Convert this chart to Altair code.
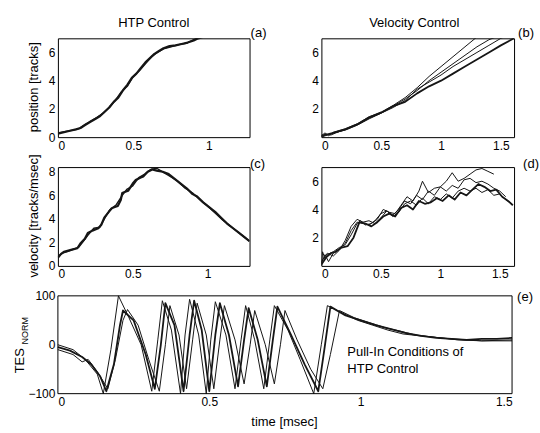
import altair as alt
import pandas as pd

FONT = "Liberation Sans"
INK = "#161616"

# ---------------- (a) HTP control: position [tracks] vs time [msec]
a1_t = [0.00, 0.04, 0.08, 0.12, 0.15, 0.18, 0.21, 0.25, 0.28, 0.31, 0.34, 0.37, 0.40, 0.43, 0.46, 0.49, 0.52, 0.55, 0.58, 0.61, 0.64, 0.67, 0.70, 0.74, 0.78, 0.82, 0.86, 0.90, 0.93, 0.96]
a1_v = [0.25, 0.35, 0.45, 0.55, 0.65, 0.85, 1.05, 1.3, 1.5, 1.8, 2.1, 2.5, 2.8, 3.3, 3.7, 4.2, 4.5, 4.9, 5.3, 5.6, 5.9, 6.1, 6.3, 6.45, 6.5, 6.6, 6.7, 6.85, 7.0, 7.1]
a2_t = [0.00, 0.05, 0.10, 0.14, 0.18, 0.22, 0.26, 0.30, 0.34, 0.38, 0.42, 0.46, 0.50, 0.54, 0.58, 0.62, 0.66, 0.70, 0.75, 0.80, 0.85, 0.90, 0.94]
a2_v = [0.3, 0.4, 0.5, 0.6, 0.9, 1.15, 1.4, 1.7, 2.1, 2.6, 3.2, 3.6, 4.3, 4.7, 5.2, 5.7, 6.0, 6.25, 6.4, 6.55, 6.65, 6.9, 7.1]

# ---------------- (b) velocity control: position [tracks]
b1_t = [0.00, 0.03, 0.06, 0.10, 0.20, 0.30, 0.40, 0.50, 0.60, 0.70, 0.80, 0.90, 1.00, 1.10, 1.20, 1.30]
b1_v = [0.1, 0.3, 0.1, 0.35, 0.6, 0.95, 1.45, 1.75, 2.25, 2.8, 3.5, 4.3, 5.0, 5.7, 6.4, 7.1]
b2_t = [0.00, 0.04, 0.08, 0.12, 0.20, 0.30, 0.40, 0.50, 0.60, 0.70, 0.80, 0.90, 1.00, 1.10, 1.20, 1.30, 1.40, 1.46]
b2_v = [0.05, 0.2, 0.15, 0.3, 0.55, 0.9, 1.35, 1.7, 2.2, 2.7, 3.3, 4.0, 4.6, 5.2, 5.8, 6.4, 6.9, 7.1]
b3_t = [0.00, 0.05, 0.10, 0.20, 0.30, 0.40, 0.50, 0.60, 0.70, 0.80, 0.90, 1.00, 1.10, 1.20, 1.30, 1.40, 1.50, 1.53]
b3_v = [0.0, 0.15, 0.3, 0.5, 0.85, 1.3, 1.7, 2.1, 2.6, 3.4, 3.9, 4.4, 5.0, 5.5, 6.0, 6.5, 7.0, 7.1]
b4_t = [0.00, 0.05, 0.10, 0.20, 0.30, 0.40, 0.50, 0.60, 0.70, 0.80, 0.90, 1.00, 1.10, 1.20, 1.30, 1.40, 1.50, 1.61]
b4_v = [0.1, 0.2, 0.3, 0.55, 0.9, 1.4, 1.75, 2.2, 2.5, 3.1, 3.6, 4.0, 4.5, 5.0, 5.5, 6.0, 6.5, 7.0]

# ---------------- (c) HTP control: velocity [tracks/msec]
c1_t = [0.00, 0.02, 0.04, 0.07, 0.10, 0.13, 0.15, 0.18, 0.20, 0.23, 0.27, 0.29, 0.31, 0.34, 0.36, 0.38, 0.40, 0.42, 0.43, 0.45, 0.47, 0.50, 0.52, 0.55, 0.57, 0.60, 0.63, 0.66, 0.70, 0.74, 0.78, 0.82, 0.86, 0.90, 0.93, 0.97, 1.01, 1.05, 1.09, 1.13, 1.17, 1.21, 1.25, 1.28]
c1_v = [0.7, 1.0, 1.2, 1.3, 1.4, 1.5, 1.9, 2.3, 2.8, 3.0, 3.2, 3.5, 4.1, 4.6, 4.9, 5.0, 5.1, 5.6, 6.2, 6.3, 6.4, 7.0, 7.3, 7.5, 7.6, 8.0, 8.2, 8.1, 8.0, 7.8, 7.4, 7.0, 6.6, 6.1, 5.9, 5.4, 5.0, 4.6, 4.1, 3.6, 3.2, 2.8, 2.4, 2.1]
c2_t = [0.00, 0.03, 0.06, 0.10, 0.14, 0.17, 0.20, 0.24, 0.28, 0.32, 0.35, 0.39, 0.43, 0.46, 0.50, 0.54, 0.58, 0.62, 0.66, 0.70, 0.75, 0.80, 0.85, 0.90, 0.95, 1.00, 1.05, 1.10, 1.15, 1.20, 1.25, 1.28]
c2_v = [0.8, 1.1, 1.2, 1.4, 1.6, 2.1, 2.6, 3.2, 3.3, 4.2, 4.8, 5.2, 6.0, 6.5, 6.8, 7.5, 7.8, 8.2, 8.3, 8.0, 7.6, 7.2, 6.6, 6.2, 5.6, 5.1, 4.5, 3.9, 3.4, 2.9, 2.4, 2.1]

# ---------------- (d) velocity control: velocity [tracks/msec]
d1_t = [0.00, 0.01, 0.03, 0.05, 0.10, 0.15, 0.20, 0.25, 0.30, 0.33, 0.37, 0.42, 0.47, 0.52, 0.57, 0.62, 0.67, 0.72, 0.77, 0.82, 0.85, 0.90, 0.95, 1.00, 1.05, 1.10, 1.15, 1.20, 1.25, 1.30, 1.35, 1.40, 1.45]
d1_v = [0.0, 1.0, 0.5, 0.8, 1.0, 1.3, 1.5, 2.2, 3.0, 3.2, 2.9, 3.0, 3.3, 4.0, 3.8, 3.7, 4.3, 4.9, 4.6, 5.3, 6.0, 5.2, 5.5, 5.6, 6.0, 6.6, 6.0, 6.2, 6.5, 6.8, 6.9, 6.7, 6.5]
d2_t = [0.00, 0.03, 0.06, 0.10, 0.15, 0.20, 0.25, 0.30, 0.35, 0.40, 0.45, 0.50, 0.55, 0.60, 0.65, 0.70, 0.75, 0.80, 0.85, 0.90, 0.95, 1.00, 1.05, 1.10, 1.15, 1.20, 1.25, 1.30, 1.35, 1.40, 1.45, 1.50, 1.55]
d2_v = [0.2, 0.8, 0.3, 0.9, 1.2, 1.6, 2.5, 3.1, 3.0, 2.9, 3.2, 3.7, 3.9, 3.6, 4.0, 4.6, 4.4, 5.0, 4.7, 5.3, 5.0, 5.6, 5.3, 5.7, 5.5, 6.1, 6.2, 5.9, 6.0, 5.8, 5.5, 5.3, 4.9]
d3_t = [0.00, 0.04, 0.08, 0.12, 0.17, 0.22, 0.27, 0.32, 0.37, 0.42, 0.47, 0.52, 0.57, 0.62, 0.67, 0.72, 0.77, 0.82, 0.87, 0.92, 0.97, 1.02, 1.07, 1.12, 1.17, 1.22, 1.27, 1.32, 1.37, 1.42, 1.47, 1.52, 1.57, 1.61]
d3_v = [0.1, 0.6, 0.9, 1.0, 1.3, 1.4, 2.0, 3.1, 3.0, 2.8, 3.1, 3.5, 3.7, 3.5, 4.1, 4.3, 4.0, 4.6, 4.4, 4.5, 4.8, 4.6, 5.0, 4.7, 5.2, 5.0, 5.4, 5.8, 5.6, 5.3, 5.4, 4.9, 4.6, 4.3]
d4_t = [0.00, 0.05, 0.10, 0.15, 0.20, 0.25, 0.30, 0.35, 0.40, 0.45, 0.50, 0.55, 0.60, 0.65, 0.70, 0.75, 0.80, 0.85, 0.90, 0.95, 1.00, 1.05, 1.10, 1.15, 1.20, 1.25, 1.30, 1.35, 1.40, 1.45, 1.50, 1.55, 1.60]
d4_v = [0.3, 0.9, 0.7, 1.1, 1.8, 2.8, 3.3, 3.1, 3.2, 3.0, 3.4, 3.9, 3.5, 3.8, 4.4, 4.6, 4.3, 4.8, 4.4, 4.9, 4.7, 5.1, 4.8, 5.3, 5.5, 5.3, 5.5, 5.2, 5.4, 5.0, 5.1, 4.7, 4.4]

# ---------------- (e) pull-in conditions: TES_NORM vs time [msec]
e1_t = [0.00, 0.04, 0.08, 0.11, 0.14, 0.16, 0.185, 0.205, 0.215, 0.25, 0.29, 0.32, 0.34, 0.355, 0.385, 0.415, 0.435, 0.45, 0.475, 0.50, 0.52, 0.535, 0.565, 0.595, 0.615, 0.63, 0.66, 0.69, 0.71, 0.725, 0.77, 0.815, 0.86, 0.88, 0.90, 0.95, 1.00, 1.05, 1.10, 1.15, 1.20, 1.25, 1.30, 1.35, 1.40, 1.45, 1.50]
e1_v = [-5, -12, -25, -40, -65, -95, -40, 40, 70, 50, -20, -90, 0, 85, 40, -95, 20, 90, 30, -95, 20, 85, 20, -85, 10, 75, 10, -85, 10, 78, 20, -40, -95, -10, 78, 60, 50, 40, 32, 24, 18, 14, 12, 10, 12, 12, 14]
e2_t = [0.00, 0.05, 0.09, 0.13, 0.15, 0.175, 0.20, 0.235, 0.275, 0.31, 0.33, 0.345, 0.375, 0.405, 0.42, 0.435, 0.465, 0.49, 0.505, 0.52, 0.555, 0.585, 0.605, 0.62, 0.65, 0.68, 0.70, 0.715, 0.76, 0.80, 0.845, 0.87, 0.89, 0.94, 0.99, 1.04, 1.09, 1.14, 1.20, 1.30, 1.40, 1.50]
e2_v = [0, -10, -30, -60, -100, -10, 100, 55, 0, -95, 10, 90, 30, -100, 20, 93, 20, -100, 10, 88, 20, -90, 10, 80, 10, -90, 10, 80, 30, -30, -100, 0, 80, 65, 50, 40, 30, 22, 18, 12, 8, 10]
e3_t = [0.00, 0.05, 0.08, 0.10, 0.13, 0.165, 0.19, 0.215, 0.23, 0.265, 0.30, 0.335, 0.355, 0.37, 0.40, 0.425, 0.445, 0.46, 0.49, 0.515, 0.535, 0.55, 0.585, 0.615, 0.635, 0.65, 0.685, 0.715, 0.735, 0.75, 0.79, 0.835, 0.875, 0.90, 0.93, 0.98, 1.03, 1.08, 1.13, 1.18, 1.25, 1.32, 1.40, 1.50]
e3_v = [-10, -20, -35, -30, -55, -90, -30, 50, 72, 40, -30, -95, 0, 80, 20, -90, 10, 85, 20, -90, 10, 80, 10, -80, 0, 70, 0, -80, 0, 70, 10, -50, -90, -20, 70, 55, 45, 35, 28, 20, 15, 10, 8, 8]

TRACES = [
    ("a", "a1", a1_t, a1_v, 2.2), ("a", "a2", a2_t, a2_v, 1.4),
    ("b", "b1", b1_t, b1_v, 1.0), ("b", "b2", b2_t, b2_v, 1.0), ("b", "b3", b3_t, b3_v, 1.0), ("b", "b4", b4_t, b4_v, 1.8),
    ("c", "c1", c1_t, c1_v, 2.2), ("c", "c2", c2_t, c2_v, 1.4),
    ("d", "d1", d1_t, d1_v, 1.0), ("d", "d2", d2_t, d2_v, 1.0), ("d", "d3", d3_t, d3_v, 1.8), ("d", "d4", d4_t, d4_v, 1.0),
    ("e", "e1", e1_t, e1_v, 1.8), ("e", "e2", e2_t, e2_v, 1.0), ("e", "e3", e3_t, e3_v, 1.0),
]

rows = []
for panel, name, ts, vs, w in TRACES:
    for i, (t, v) in enumerate(zip(ts, vs)):
        rows.append({"panel": panel, "trace": name, "i": i, "t": t, "v": v, "w": w})
df = pd.DataFrame(rows)

ONE = pd.DataFrame({"k": [0]})


def txt(s, x, y, size=13, angle=0, align="center", baseline="middle", opacity=1):
    return alt.Chart(pd.DataFrame({"s": [s]})).mark_text(
        font=FONT, fontSize=size, angle=angle, align=align, baseline=baseline,
        color="black", opacity=opacity,
    ).encode(x=alt.value(x), y=alt.value(y), text="s:N")


def panel(p, xdom, xticks, ydom, yticks, w, h, extras, xrange=None, yfmt="~g", clip=True):
    xs = alt.Scale(domain=xdom, nice=False, zero=False)
    if xrange is not None:
        xs = alt.Scale(domain=xdom, nice=False, zero=False, range=xrange)
    lines = alt.Chart(df[df.panel == p]).mark_line(clip=clip, color=INK, strokeJoin="round").encode(
        x=alt.X("t:Q", scale=xs, axis=alt.Axis(values=xticks, format="~g", title=None)),
        y=alt.Y("v:Q", scale=alt.Scale(domain=ydom, nice=False, zero=False),
                axis=alt.Axis(values=yticks, format=yfmt, title=None)),
        detail="trace:N",
        order="i:Q",
        strokeWidth=alt.StrokeWidth("w:Q", scale=None, legend=None),
    )
    return alt.layer(lines, *extras).properties(width=w, height=h)


pa = panel("a", [0, 1.27], [0, 0.5, 1], [0, 7], [0, 2, 4, 6], 192, 99, [
    txt("HTP Control", 96, -15), txt("(a)", 201, -5),
    txt("position [tracks]", -24, 49, angle=270),
])
pb = panel("b", [0, 1.61], [0, 0.5, 1, 1.5], [0, 7], [2, 4, 6], 193, 99, [
    txt("Velocity Control", 93, -15), txt("(b)", 205, -5),
])
pc = panel("c", [0, 1.28], [0, 0.5, 1], [0, 8.4], [0, 2, 4, 6, 8], 192, 99, [
    txt("(c)", 200, -3),
    txt("velocity [tracks/msec]", -24, 49, angle=270),
])
pd_ = panel("d", [0, 1.62], [0, 0.5, 1, 1.5], [0, 7], [2, 4, 6], 193, 99, [
    txt("(d)", 210, -3),
])

frame_e = alt.Chart(ONE).mark_rect(filled=False, stroke="black", strokeWidth=1).encode(
    x=alt.value(0), x2=alt.value(455), y=alt.value(0), y2=alt.value(98)
)
pe = panel("e", [0, 1.5], [0, 0.5, 1, 1.5], [-100, 100], [-100, 0, 100], 192, 98, [
    frame_e,
    txt("(e)", 468, 1),
    txt("TES", -38, 65, angle=270),
    txt("NORM", -33, 35, size=9, angle=270),
    txt("time [msec]", 227, 126),
    txt("Pull-In Conditions of", 290, 56, align="left"),
    txt("HTP Control", 290, 73, align="left"),
], xrange=[0, 455], yfmt="d", clip=False).properties(view=alt.ViewBackground(stroke="transparent"))

chart = alt.concat(
    pa, pb, pc, pd_, pe, columns=2, bounds="flush", spacing={"row": 30, "column": 72}
).properties(
    padding={"left": 13, "top": 16, "right": 0, "bottom": 0},
    background="white",
).configure_view(stroke="black", strokeWidth=1).configure_axis(
    domain=False, ticks=False, grid=False, labelFont=FONT, labelFontSize=12,
    labelColor="black", labelPadding=3,
)

chart.save("out.html", embed_options={"renderer": "svg", "actions": False})
